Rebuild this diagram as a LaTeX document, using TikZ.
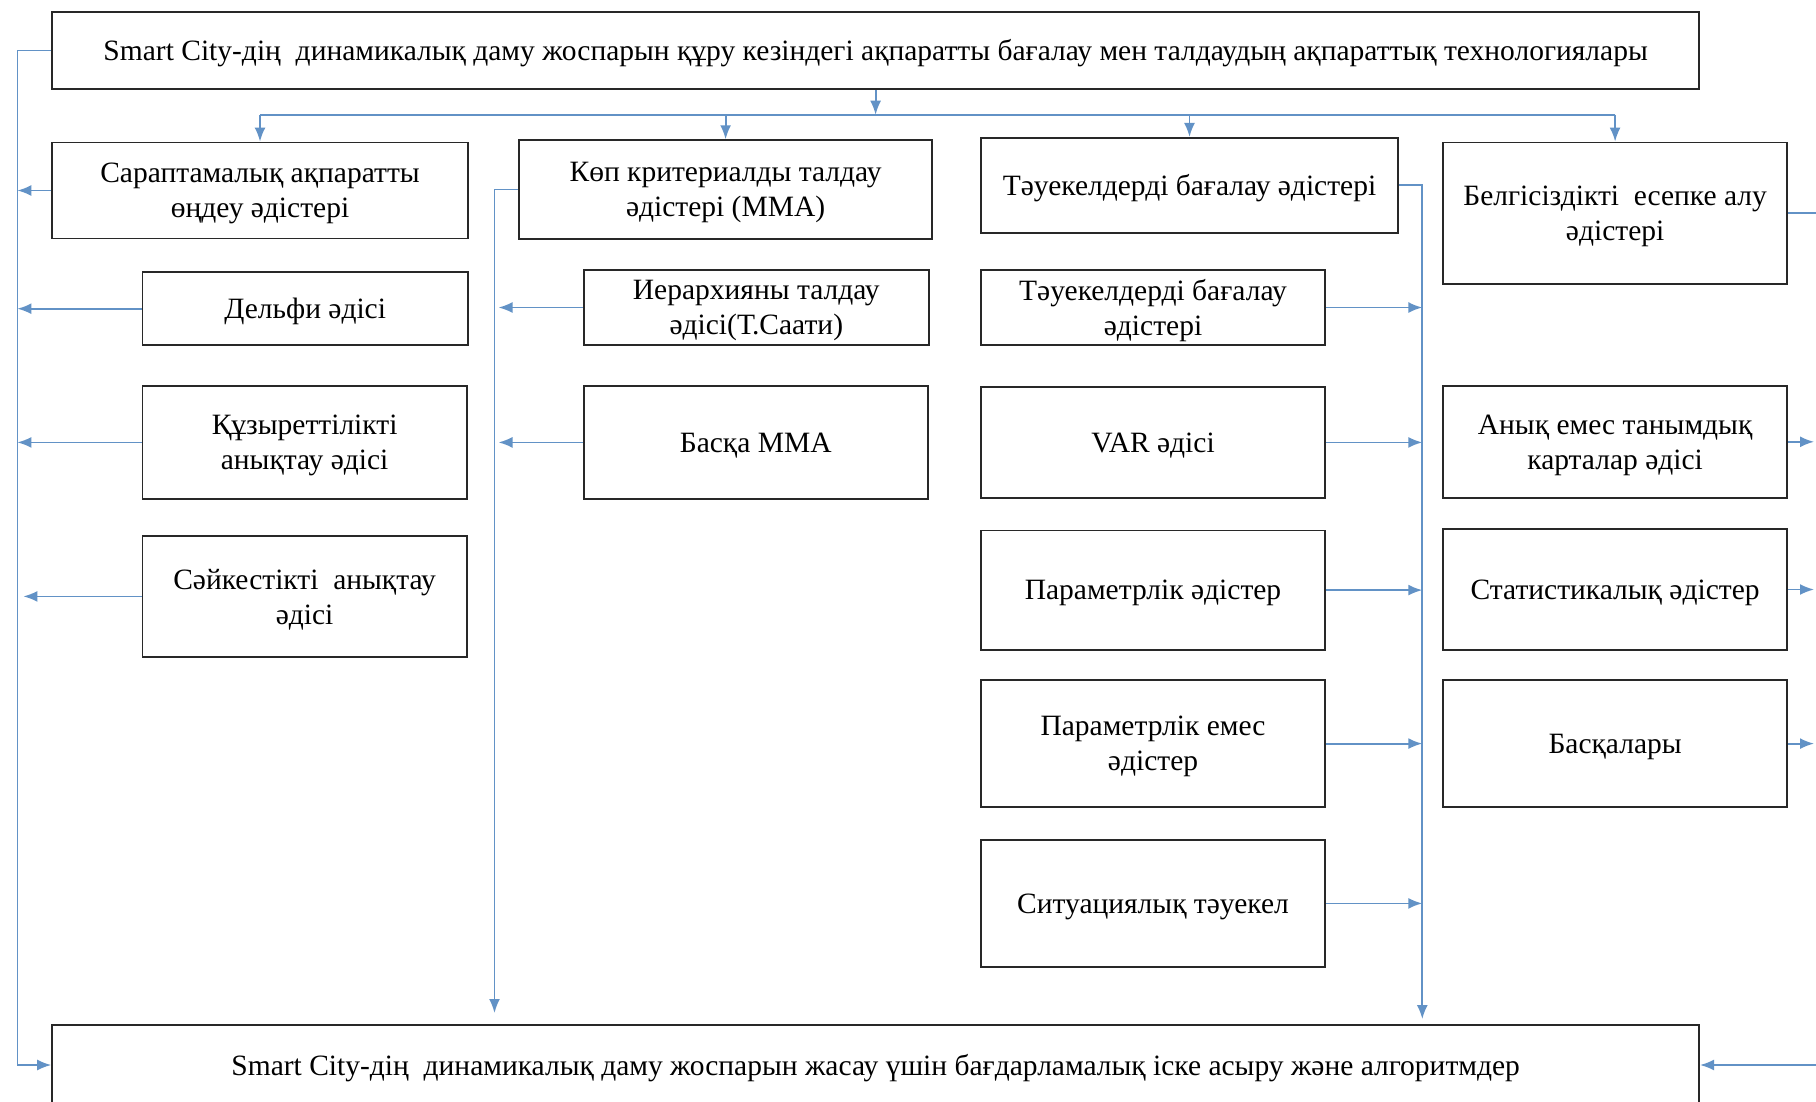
\documentclass[tikz,border=0pt]{standalone}
\usepackage{fontspec}
\setmainfont{Liberation Serif}
\usetikzlibrary{arrows.meta}
\definecolor{linkblue}{RGB}{98,146,198}
\definecolor{boxline}{RGB}{40,40,40}
\tikzset{
  box/.style={draw=boxline, line width=1.8pt, fill=white, align=center,
    inner sep=0pt, text depth=-1.5pt, font=\fontsize{29.5}{35}\selectfont},
  link/.style={draw=linkblue, line width=1.8pt},
  arr/.style={link, -{Latex[length=14pt,width=11pt]}},
}
\begin{document}
\begin{tikzpicture}[x=1pt,y=-1pt]
  \useasboundingbox (0,0) rectangle (1816,1101);
  \fill[white] (0,0) rectangle (1816,1101);
  \clip (0,0) rectangle (1816,1101);

  % top and bottom boxes
  \node[box, minimum width=1647pt, minimum height=77.6pt] (top) at (875.6,50.4)
    {Smart City-дің\ \ динамикалық даму жоспарын құру кезіндегі ақпаратты бағалау мен талдаудың ақпараттық технологиялары};
  \node[box, minimum width=1647pt, minimum height=80pt] (bot) at (875.6,1065)
    {Smart City-дің\ \ динамикалық даму жоспарын жасау үшін бағдарламалық іске асыру және алгоритмдер};

  % column 1
  \node[box, minimum width=415.8pt, minimum height=96.1pt] (sar) at (260,190.5)
    {Сараптамалық ақпаратты\\өңдеу әдістері};
  \node[box, minimum width=325.4pt, minimum height=73pt] (del) at (305.2,308.7)
    {Дельфи әдісі};
  \node[box, minimum width=324.3pt, minimum height=113.5pt] (quz) at (304.6,442.4)
    {Құзыреттілікті\\анықтау әдісі};
  \node[box, minimum width=324.3pt, minimum height=120.5pt] (sai) at (304.6,596.4)
    {Сәйкестікті\ \ анықтау\\әдісі};

  % column 2
  \node[box, minimum width=413.5pt, minimum height=98.5pt] (kop) at (725.6,189.4)
    {Көп критериалды талдау\\әдістері (ММА)};
  \node[box, minimum width=345.2pt, minimum height=75.2pt] (ier) at (756.3,307.5)
    {Иерархияны талдау\\әдісі(Т.Саати)};
  \node[box, minimum width=344pt, minimum height=113.5pt] (bma) at (755.7,442.4)
    {Басқа ММА};

  % column 3
  \node[box, minimum width=417pt, minimum height=95pt] (tau) at (1189.5,185.3)
    {Тәуекелдерді бағалау әдістері};
  \node[box, minimum width=344pt, minimum height=75.2pt] (taub) at (1153,307.5)
    {Тәуекелдерді бағалау\\әдістері};
  \node[box, minimum width=344pt, minimum height=111.2pt] (var) at (1153,442.4)
    {VAR әдісі};
  \node[box, minimum width=344pt, minimum height=119.3pt] (par) at (1153,590.1)
    {Параметрлік әдістер};
  \node[box, minimum width=344pt, minimum height=127.4pt] (pare) at (1153,743.6)
    {Параметрлік емес\\әдістер};
  \node[box, minimum width=344pt, minimum height=127.4pt] (sit) at (1153,903.4)
    {Ситуациялық тәуекел};

  % column 4
  \node[box, minimum width=344pt, minimum height=141.3pt] (bel) at (1615.1,213.1)
    {Белгісіздікті\ \ есепке алу\\әдістері};
  \node[box, minimum width=344pt, minimum height=112.3pt] (anq) at (1615.1,441.8)
    {Анық емес танымдық\\карталар әдісі};
  \node[box, minimum width=344pt, minimum height=120.5pt] (sta) at (1615.1,589.5)
    {Статистикалық әдістер};
  \node[box, minimum width=344pt, minimum height=127.4pt] (bsq) at (1615.1,743.6)
    {Басқалары};

  % bus positions
  \coordinate (hub) at (875.6,114.7);
  \coordinate (lbus) at (17.4,0);
  \coordinate (mend) at (494.5,1013);
  \coordinate (rend) at (1422.3,1019);
  \coordinate (edge) at (1814,0);
  \coordinate (xbus) at (1822,0);

  % distribution from the top box
  \draw[arr] (top.south) -- (hub);
  \draw[link] (sar.north |- hub) -- (bel.north |- hub);
  \foreach \n in {sar,kop,tau,bel}
    \draw[arr] (\n.north |- hub) -- (\n.north);

  % left bus
  \draw[arr] (top.west) -| (lbus |- bot.west) -- (bot.west);
  \foreach \n in {sar,del,quz}
    \draw[arr] (\n.west) -- (\n.west -| lbus);
  \draw[arr] (sai.west) -- ([xshift=6pt]sai.west -| lbus);

  % multi-criteria bus
  \draw[arr] (kop.west) -| (mend);
  \foreach \n in {ier,bma}
    \draw[arr] (\n.west) -- ([xshift=4pt]\n.west -| mend);

  % risk bus
  \draw[arr] (tau.east) -| (rend);
  \foreach \n in {taub,var,par,pare,sit}
    \draw[arr] (\n.east) -- (\n.east -| rend);

  % uncertainty bus
  \draw[link] (bel.east) -- (bel.east -| xbus) -- (bot.east -| xbus);
  \foreach \n in {anq,sta,bsq}
    \draw[arr] (\n.east) -- (\n.east -| edge);
  \draw[arr] (bot.east -| xbus) -- (bot.east);
\end{tikzpicture}
\end{document}
